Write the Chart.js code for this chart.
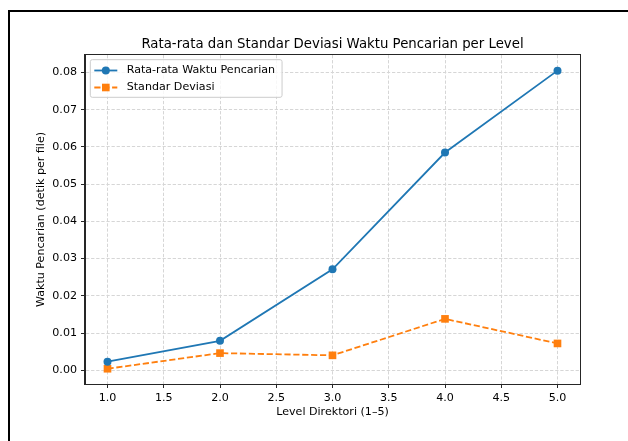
<!DOCTYPE html>
<html>
<head>
<meta charset="utf-8">
<script src="https://cdn.jsdelivr.net/npm/chart.js"></script>
<style>
  html, body { margin: 0; padding: 0; background: #fff; overflow: hidden; }
  #frame { position: absolute; left: 8px; top: 10px; width: 700px; height: 500px; border-top: 2px solid #000; border-left: 2px solid #000; }
  #wrap { position: absolute; left: 0; top: 0; width: 628px; height: 441px; }
</style>
</head>
<body>
<div id="frame"></div>
<div id="wrap"><canvas id="chart" width="628" height="441"></canvas></div>
<script>
// Data
const levels = [1, 2, 3, 4, 5];
const meanTime = [0.0023, 0.0079, 0.0271, 0.0585, 0.0805];
const stdTime = [0.0004, 0.0046, 0.0040, 0.0138, 0.0072];
const xTicks = [1.0, 1.5, 2.0, 2.5, 3.0, 3.5, 4.0, 4.5, 5.0];
const yTicks = [0.00, 0.01, 0.02, 0.03, 0.04, 0.05, 0.06, 0.07, 0.08];
const chartTitle = 'Rata-rata dan Standar Deviasi Waktu Pencarian per Level';

const FONT = '"DejaVu Sans", sans-serif';
const SMALL = 11.1;   // 10pt at 80 dpi
const BIG = 13.3;     // 12pt at 80 dpi
Chart.defaults.font.family = FONT;
Chart.defaults.color = '#000';

// Title centred over the plot area (like matplotlib)
const axesTitle = {
    id: 'axesTitle',
    afterDraw(chart) {
        const {ctx, chartArea} = chart;
        ctx.save();
        ctx.font = BIG + 'px ' + FONT;
        ctx.fillStyle = '#000';
        ctx.textAlign = 'center';
        ctx.textBaseline = 'middle';
        ctx.fillText(chartTitle, (chartArea.left + chartArea.right) / 2, 44.5);
        ctx.restore();
    }
};

// Box around the plot area
const axesFrame = {
    id: 'axesFrame',
    afterDatasetsDraw(chart) {
        const {ctx, chartArea} = chart;
        ctx.save();
        ctx.strokeStyle = '#262626';
        ctx.lineWidth = 1;
        ctx.strokeRect(Math.round(chartArea.left) - 0.5, Math.round(chartArea.top) - 0.5,
            Math.round(chartArea.right - chartArea.left) + 1, Math.round(chartArea.bottom - chartArea.top) + 1);
        ctx.restore();
    }
};

// Legend inside the plot, upper left
const boxLegend = {
    id: 'boxLegend',
    afterDraw(chart) {
        const {ctx, chartArea} = chart;
        const sets = chart.data.datasets;
        const x = chartArea.left + 5.3, y = chartArea.top + 4.7;
        ctx.save();
        ctx.font = SMALL + 'px ' + FONT;
        const textW = Math.max(...sets.map(d => ctx.measureText(d.label).width));
        const w = 36.4 + textW + 7, h = 37.6;
        ctx.beginPath();
        ctx.roundRect(x, y, w, h, 2);
        ctx.fillStyle = 'rgba(255,255,255,0.8)';
        ctx.fill();
        ctx.strokeStyle = '#cccccc';
        ctx.lineWidth = 1;
        ctx.stroke();
        sets.forEach((d, i) => {
            const cy = y + 10.8 + i * 17;
            ctx.strokeStyle = d.borderColor;
            ctx.lineWidth = d.borderWidth;
            ctx.setLineDash(d.borderDash || []);
            ctx.beginPath();
            ctx.moveTo(x + 4, cy);
            ctx.lineTo(x + 27, cy);
            ctx.stroke();
            ctx.setLineDash([]);
            ctx.fillStyle = d.borderColor;
            if (d.pointStyle === 'rect') {
                ctx.fillRect(x + 15.5 - 3.8, cy - 3.8, 7.6, 7.6);
            } else {
                ctx.beginPath();
                ctx.arc(x + 15.5, cy, 4, 0, Math.PI * 2);
                ctx.fill();
            }
            ctx.fillStyle = '#000';
            ctx.textBaseline = 'middle';
            ctx.fillText(d.label, x + 36.4, cy);
        });
        ctx.restore();
    }
};

const gridOpts = {
    color: '#d6d6d6',
    lineWidth: 1,
    tickColor: '#262626',
    tickLength: 4,
    tickWidth: 1,
    tickBorderDash: []
};

const ctx = document.getElementById('chart').getContext('2d');
new Chart(ctx, {
    type: 'line',
    data: {
        datasets: [{
            label: 'Rata-rata Waktu Pencarian',
            data: levels.map((l, i) => ({x: l, y: meanTime[i]})),
            borderColor: '#1f77b4',
            backgroundColor: '#1f77b4',
            borderWidth: 1.8,
            pointStyle: 'circle',
            pointRadius: 4,
            pointBorderWidth: 0,
            tension: 0
        }, {
            label: 'Standar Deviasi',
            data: levels.map((l, i) => ({x: l, y: stdTime[i]})),
            borderColor: '#ff7f0e',
            backgroundColor: '#ff7f0e',
            borderWidth: 1.8,
            borderDash: [6.2, 2.7],
            pointStyle: 'rect',
            pointRadius: 5.4,
            pointBorderWidth: 0,
            tension: 0
        }]
    },
    options: {
        responsive: false,
        animation: false,
        layout: { padding: { top: 55, right: 48, bottom: 0, left: 0 } },
        plugins: {
            legend: { display: false },
            title: { display: false },
            tooltip: { enabled: false }
        },
        scales: {
            x: {
                type: 'linear',
                min: 0.8,
                max: 5.2,
                afterBuildTicks: s => { s.ticks = xTicks.map(v => ({value: v})); },
                afterFit: s => { s.height = 57; },
                ticks: {
                    font: {size: SMALL},
                    color: '#000',
                    padding: 3,
                    autoSkip: false,
                    maxRotation: 0,
                    callback: v => Number(v).toFixed(1)
                },
                grid: gridOpts,
                border: { color: '#262626', dash: [3.3, 1.8] },
                title: {
                    display: true,
                    text: 'Level Direktori (1–5)',
                    font: {size: SMALL},
                    color: '#000',
                    padding: {top: 0, bottom: 22}
                }
            },
            y: {
                min: -0.0037,
                max: 0.0847,
                afterBuildTicks: s => { s.ticks = yTicks.map(v => ({value: v})); },
                afterFit: s => { s.width = 85; },
                ticks: {
                    font: {size: SMALL},
                    color: '#000',
                    padding: 4,
                    callback: v => Number(v).toFixed(2)
                },
                grid: gridOpts,
                border: { color: '#262626', dash: [3.3, 1.8] },
                title: {
                    display: true,
                    text: 'Waktu Pencarian (detik per file)',
                    font: {size: SMALL},
                    color: '#000',
                    padding: {top: 34.3, bottom: 0}
                }
            }
        }
    },
    plugins: [axesFrame, boxLegend, axesTitle]
});
</script>
</body>
</html>
